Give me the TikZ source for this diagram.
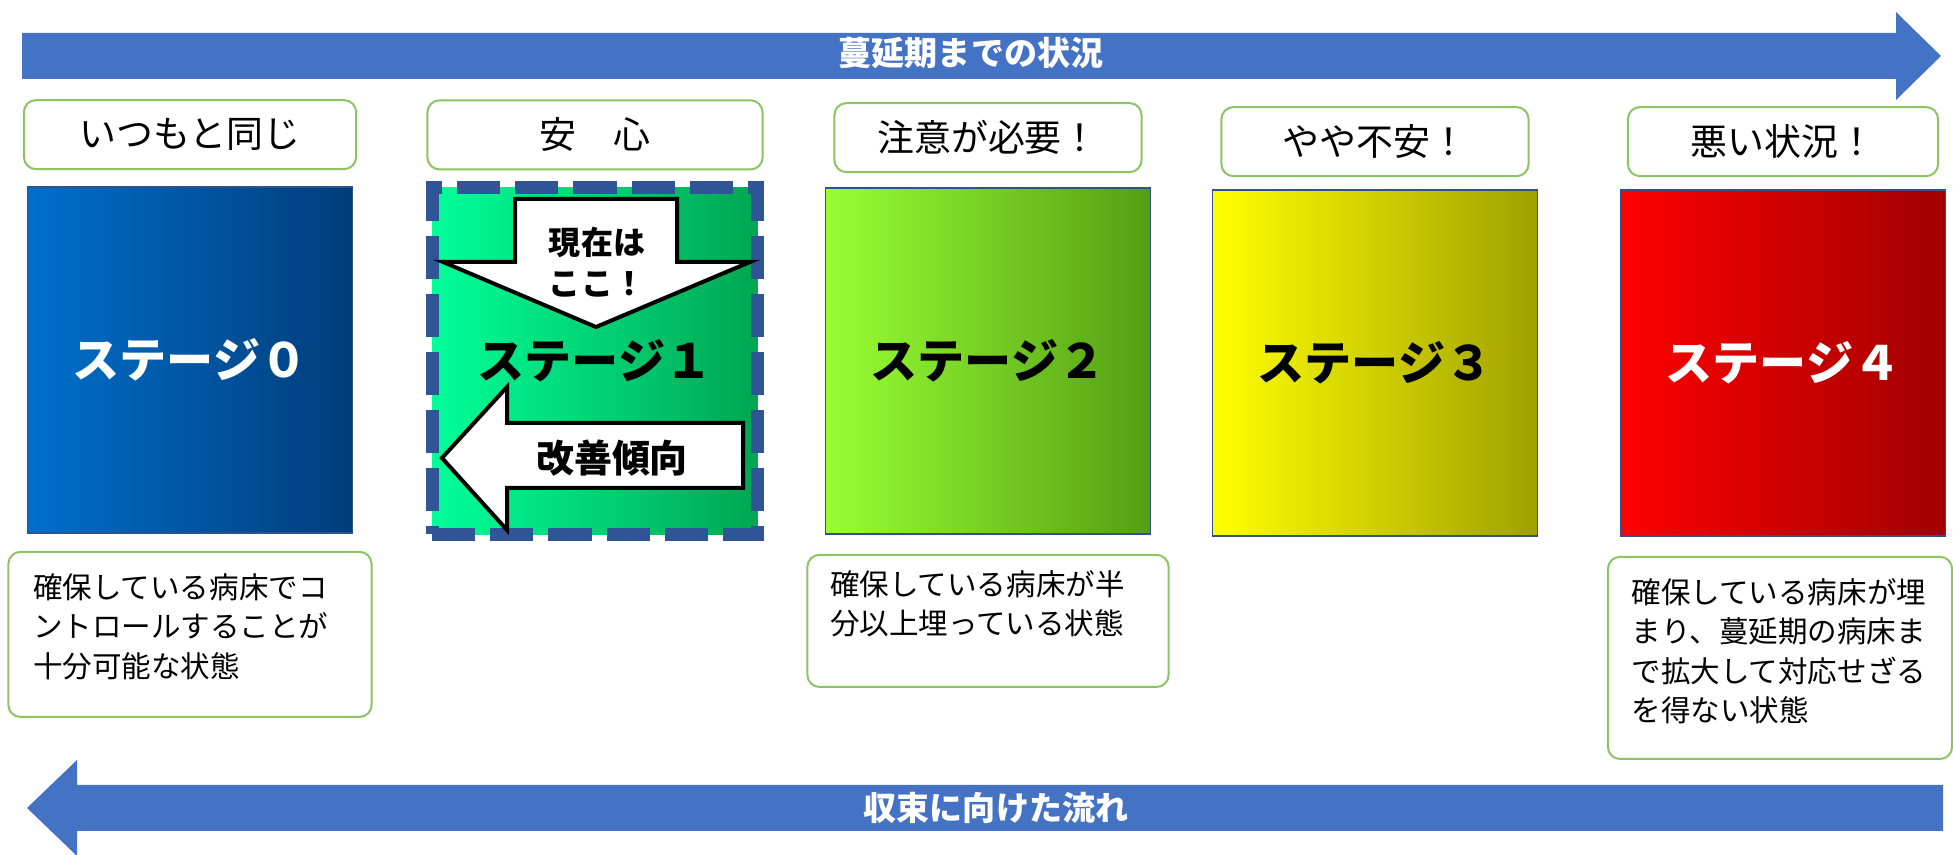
\documentclass[tikz,border=0pt]{standalone}
\usepackage{fontspec}
\setmainfont{Noto Sans CJK JP}
\usepackage{tikz}
\usetikzlibrary{positioning}

\definecolor{flowblue}{RGB}{68,114,196}
\definecolor{tagframe}{RGB}{140,196,100}
\definecolor{boxframe}{RGB}{47,82,143}
\definecolor{dashblue}{RGB}{47,85,151}
\definecolor{zeroleft}{RGB}{0,112,204}
\definecolor{zeroright}{RGB}{0,60,122}
\definecolor{oneleft}{RGB}{0,255,153}
\definecolor{oneright}{RGB}{0,166,81}
\definecolor{twoleft}{RGB}{153,255,51}
\definecolor{tworight}{RGB}{84,158,20}
\definecolor{threeleft}{RGB}{255,255,0}
\definecolor{threeright}{RGB}{160,160,0}
\definecolor{fourleft}{RGB}{255,0,0}
\definecolor{fourright}{RGB}{160,0,0}

\begin{document}
\begin{tikzpicture}[x=0.01cm, y=-0.01cm,
        tag/.style={draw=tagframe, line width=0.2mm, rounded corners=1.2mm, fill=white,
                    minimum height=0.69cm, inner sep=0pt,
                    font=\fontsize{10.5pt}{12pt}\selectfont},
        stagebox/.style={draw=boxframe, line width=0.15mm, minimum width=3.25cm,
                         minimum height=3.46cm, inner sep=0pt,
                         font=\fontsize{13.4pt}{16pt}\selectfont\bfseries},
        note/.style={draw=tagframe, line width=0.2mm, rounded corners=1.2mm, fill=white},
        notetext/.style={anchor=north west, align=left, inner sep=0pt,
                         font=\fontsize{8.4pt}{11.2pt}\selectfont},
        flowtext/.style={text=white, inner sep=0pt, font=\fontsize{9.4pt}{11pt}\selectfont\bfseries},
        hintarrow/.style={draw=black, fill=white, line width=0.4mm, line join=miter}]
        \useasboundingbox (0, 0) rectangle (1953, 855);

        \fill [flowblue] (22, 33) -- (1896, 33) -- (1896, 12) -- (1941, 56)
               -- (1896, 100) -- (1896, 79) -- (22, 79) -- cycle;
        \node [flowtext] (spread) at (971, 53) {蔓延期までの状況};

        \fill [flowblue] (1943, 785) -- (77, 785) -- (77, 760) -- (27, 808)
               -- (77, 856) -- (77, 831) -- (1943, 831) -- cycle;
        \node [flowtext] (settle) at (996, 808) {収束に向けた流れ};

        \node [stagebox, left color=zeroleft, right color=zeroright, text=white]
               (s0) at (190, 360) {ステージ０};
        \node [stagebox, left color=oneleft, right color=oneright, draw=dashblue,
               line width=1.3mm, dash pattern=on 4.3mm off 1.5mm]
               (s1) at (595, 361) {ステージ１};
        \node [stagebox, left color=twoleft, right color=tworight]
               (s2) at (988, 361) {ステージ２};
        \node [stagebox, left color=threeleft, right color=threeright]
               (s3) at (1375, 363) {ステージ３};
        \node [stagebox, left color=fourleft, right color=fourright, text=white]
               (s4) at (1783, 363) {ステージ４};

        \node [tag, minimum width=3.32cm, above=0.16cm of s0] (t0) {いつもと同じ};
        \node [tag, minimum width=3.35cm, above=0.11cm of s1] (t1) {安　心};
        \node [tag, minimum width=3.07cm, above=0.14cm of s2] (t2) {注意が必要！};
        \node [tag, minimum width=3.07cm, above=0.12cm of s3] (t3) {やや不安！};
        \node [tag, minimum width=3.1cm, above=0.12cm of s4] (t4) {悪い状況！};

        \draw [hintarrow] (515, 199) -- (677, 199) -- (677, 262) -- (750, 262)
               -- (596, 327) -- (443, 262) -- (515, 262) -- cycle;
        \node [font=\fontsize{9.1pt}{11.7pt}\selectfont\bfseries, align=center]
               (here) at (597, 262) {現在は\\ここ！};
        \draw [hintarrow] (743, 423) -- (507, 423) -- (507, 387) -- (442, 458)
               -- (507, 530) -- (507, 488) -- (743, 488) -- cycle;
        \node [font=\fontsize{10.8pt}{12pt}\selectfont\bfseries]
               (better) at (612, 458) {改善傾向};

        \node [note, minimum width=3.63cm, minimum height=1.65cm, below=0.17cm of s0] (n0) {};
        \node [notetext] (n0text) at ([xshift=0.25cm, yshift=-0.22cm] n0.north west)
               {確保している病床でコ\\ントロールすることが\\十分可能な状態};

        \node [note, minimum width=3.61cm, minimum height=1.32cm, below=0.19cm of s2] (n2) {};
        \node [notetext] (n2text) at ([xshift=0.23cm, yshift=-0.16cm] n2.north west)
               {確保している病床が半\\分以上埋っている状態};

        \node [note, minimum width=3.44cm, minimum height=2.02cm, below=0.19cm of s4,
               xshift=-0.03cm] (n4) {};
        \node [notetext] (n4text) at ([xshift=0.24cm, yshift=-0.22cm] n4.north west)
               {確保している病床が埋\\まり、蔓延期の病床ま\\で拡大して対応せざる\\を得ない状態};
\end{tikzpicture}
\end{document}
